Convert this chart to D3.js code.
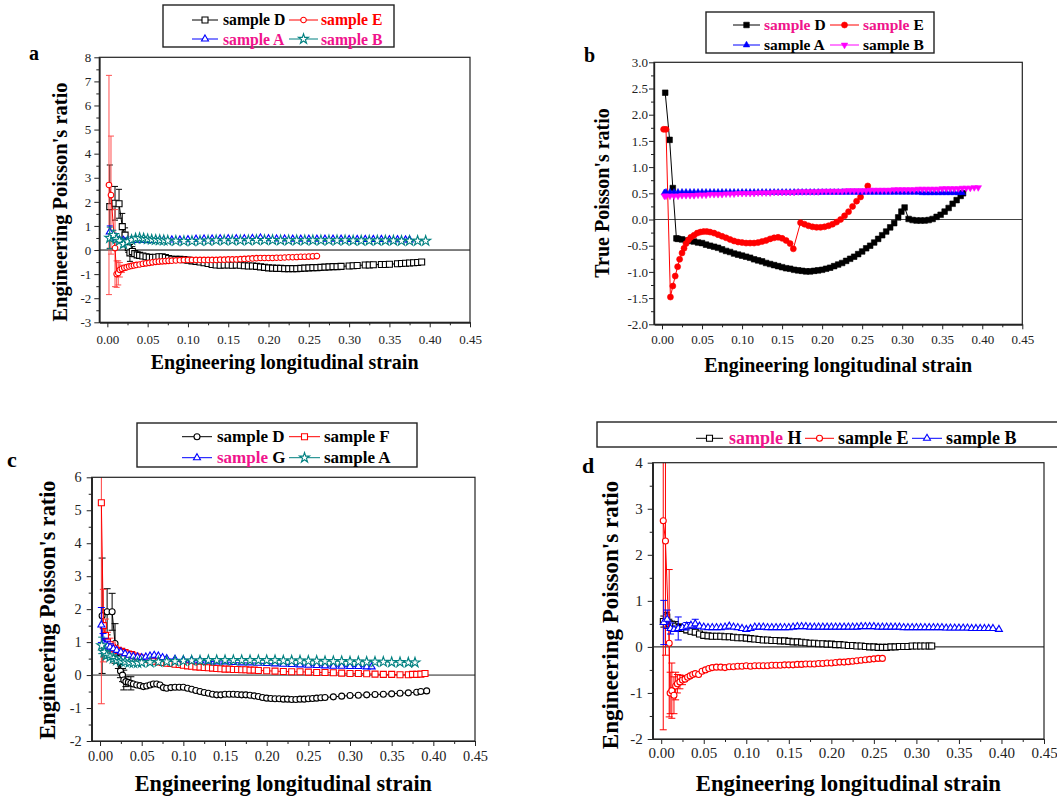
<!DOCTYPE html>
<html><head><meta charset="utf-8">
<script src="https://cdn.jsdelivr.net/npm/d3@7"></script>
<style>body{margin:0;background:#fff} svg{display:block} text{font-family:"Liberation Serif","Times New Roman",serif}</style>
</head><body><svg id="chart" width="1057" height="799"></svg>
<script>
// ---------- tick labels ----------
const xTicks = [0,0.05,0.1,0.15,0.2,0.25,0.3,0.35,0.4,0.45];
const aYTicks = [-3,-2,-1,0,1,2,3,4,5,6,7,8];
const bYTicks = [-2,-1.5,-1,-0.5,0,0.5,1,1.5,2,2.5,3];
const cYTicks = [-2,-1,0,1,2,3,4,5,6];
const dYTicks = [-2,-1,0,1,2,3,4];

// ---------- panel a : [strain, ratio, error] ----------
const aD = [[0.003,1.80,1.73],[0.0095,1.94,0.7],[0.0145,1.92,0.6],[0.0185,0.97,0.55],[0.022,0.62,0.3],[0.026,0.1,0.2],[0.028,-0.12,0.35],[0.031,-0.06,0.2],[0.034,-0.15,0.1],[0.037,-0.2],[0.04,-0.22],[0.044,-0.25],[0.048,-0.28],[0.052,-0.3],[0.056,-0.31],[0.06,-0.3],[0.064,-0.28],[0.068,-0.28],[0.072,-0.31],[0.076,-0.35],[0.08,-0.38],[0.085,-0.39],[0.09,-0.39],[0.095,-0.4],[0.1,-0.42],[0.105,-0.45],[0.11,-0.47],[0.115,-0.5],[0.12,-0.53],[0.125,-0.56],[0.13,-0.6],[0.135,-0.62],[0.14,-0.63],[0.145,-0.62],[0.15,-0.62],[0.155,-0.63],[0.16,-0.62],[0.165,-0.63],[0.17,-0.65],[0.175,-0.66],[0.18,-0.66],[0.185,-0.68],[0.19,-0.7],[0.195,-0.72],[0.2,-0.74],[0.205,-0.75],[0.21,-0.76],[0.215,-0.76],[0.22,-0.77],[0.225,-0.77],[0.23,-0.77],[0.235,-0.77],[0.24,-0.76],[0.245,-0.75],[0.25,-0.74],[0.255,-0.73],[0.26,-0.73],[0.265,-0.72],[0.27,-0.71],[0.275,-0.7],[0.28,-0.69],[0.285,-0.69],[0.29,-0.68],[0.3,-0.66],[0.305,-0.65],[0.31,-0.64],[0.32,-0.62],[0.325,-0.62],[0.33,-0.61],[0.34,-0.6],[0.345,-0.6],[0.35,-0.59],[0.36,-0.57],[0.365,-0.56],[0.37,-0.55],[0.375,-0.54],[0.38,-0.53],[0.385,-0.52],[0.39,-0.5]];
const aE = [[0.002,2.7,4.55],[0.0045,2.28,2.45],[0.0095,0.08,1.6],[0.0115,-1.0,0.55],[0.0135,-0.95,0.5],[0.0155,-0.82,0.3],[0.018,-0.78,0.15],[0.021,-0.74,0.1],[0.024,-0.71],[0.027,-0.68],[0.03,-0.66],[0.033,-0.64],[0.036,-0.62],[0.04,-0.6],[0.044,-0.57],[0.048,-0.55],[0.052,-0.53],[0.056,-0.51],[0.06,-0.49],[0.064,-0.48],[0.068,-0.47],[0.072,-0.46],[0.076,-0.45],[0.08,-0.44],[0.085,-0.43],[0.09,-0.42],[0.095,-0.41],[0.1,-0.41],[0.105,-0.41],[0.11,-0.41],[0.115,-0.41],[0.12,-0.41],[0.125,-0.41],[0.13,-0.41],[0.135,-0.41],[0.14,-0.4],[0.145,-0.4],[0.15,-0.39],[0.155,-0.39],[0.16,-0.39],[0.165,-0.38],[0.17,-0.37],[0.175,-0.36],[0.18,-0.35],[0.185,-0.34],[0.19,-0.33],[0.195,-0.33],[0.2,-0.33],[0.205,-0.33],[0.21,-0.32],[0.215,-0.32],[0.22,-0.31],[0.225,-0.3],[0.23,-0.3],[0.235,-0.29],[0.24,-0.28],[0.245,-0.28],[0.25,-0.27],[0.255,-0.26],[0.26,-0.25]];
const aA = [[0.003,0.75,0.25],[0.0075,0.55,0.15],[0.011,0.48,0.08],[0.015,0.42],[0.02,0.4],[0.025,0.4],[0.03,0.4],[0.035,0.4],[0.04,0.41],[0.045,0.4],[0.05,0.4],[0.055,0.4],[0.06,0.4],[0.065,0.41],[0.07,0.41],[0.08,0.42],[0.09,0.42],[0.1,0.43],[0.11,0.45],[0.12,0.46],[0.13,0.46],[0.14,0.47],[0.15,0.47],[0.16,0.47],[0.17,0.47],[0.18,0.48],[0.19,0.5],[0.2,0.47],[0.21,0.46],[0.22,0.46],[0.23,0.45],[0.24,0.45],[0.25,0.45],[0.26,0.45],[0.27,0.45],[0.28,0.45],[0.29,0.45],[0.3,0.44],[0.31,0.44],[0.32,0.44],[0.33,0.44],[0.34,0.44],[0.35,0.43],[0.36,0.43],[0.37,0.42],[0.375,0.42]];
const aB = [[0.003,0.5,0.45],[0.0075,0.62,0.2],[0.011,0.45,0.1],[0.015,0.38,0.1],[0.02,0.25,0.12],[0.025,0.35],[0.03,0.42],[0.035,0.48],[0.04,0.5],[0.045,0.48],[0.05,0.45],[0.055,0.43],[0.06,0.42],[0.065,0.41],[0.07,0.4],[0.075,0.39],[0.085,0.38],[0.095,0.37],[0.105,0.37],[0.115,0.38],[0.125,0.39],[0.135,0.4],[0.145,0.4],[0.155,0.4],[0.165,0.4],[0.175,0.4],[0.185,0.41],[0.195,0.41],[0.205,0.41],[0.215,0.4],[0.225,0.4],[0.235,0.4],[0.245,0.4],[0.255,0.4],[0.265,0.4],[0.275,0.4],[0.285,0.4],[0.295,0.4],[0.305,0.39],[0.315,0.39],[0.325,0.39],[0.335,0.39],[0.345,0.39],[0.355,0.39],[0.365,0.38],[0.375,0.38],[0.385,0.38],[0.395,0.38]];

// ---------- panel b : [strain, true ratio] ----------
const bD = [[0.004,2.42],[0.0095,1.52],[0.0135,0.6],[0.018,-0.36],[0.02,-0.37],[0.025,-0.38],[0.03,-0.4],[0.035,-0.41],[0.04,-0.42],[0.045,-0.44],[0.05,-0.45],[0.055,-0.48],[0.06,-0.5],[0.065,-0.52],[0.07,-0.54],[0.075,-0.57],[0.08,-0.6],[0.085,-0.62],[0.09,-0.65],[0.095,-0.67],[0.1,-0.69],[0.105,-0.71],[0.11,-0.73],[0.115,-0.76],[0.12,-0.78],[0.125,-0.8],[0.13,-0.83],[0.135,-0.85],[0.14,-0.87],[0.145,-0.89],[0.15,-0.91],[0.155,-0.93],[0.16,-0.94],[0.165,-0.96],[0.17,-0.97],[0.175,-0.98],[0.18,-0.99],[0.185,-0.99],[0.19,-0.98],[0.195,-0.97],[0.2,-0.96],[0.205,-0.94],[0.21,-0.92],[0.215,-0.89],[0.22,-0.86],[0.225,-0.83],[0.23,-0.79],[0.235,-0.75],[0.24,-0.71],[0.245,-0.66],[0.25,-0.61],[0.255,-0.55],[0.26,-0.5],[0.265,-0.44],[0.27,-0.37],[0.275,-0.3],[0.28,-0.23],[0.285,-0.15],[0.29,-0.07],[0.295,0.04],[0.299,0.15],[0.303,0.23],[0.308,0.01],[0.313,-0.01],[0.318,-0.02],[0.323,-0.02],[0.328,-0.02],[0.333,-0.01],[0.338,0.01],[0.343,0.05],[0.348,0.09],[0.353,0.15],[0.358,0.22],[0.363,0.3],[0.368,0.37],[0.373,0.45],[0.376,0.5]];
const bE = [[0.002,1.72],[0.005,1.72],[0.0105,-1.48],[0.0135,-1.27],[0.0165,-1.08],[0.0195,-0.9],[0.022,-0.76],[0.025,-0.64],[0.0275,-0.55],[0.03,-0.46],[0.033,-0.39],[0.036,-0.34],[0.04,-0.3],[0.044,-0.26],[0.048,-0.24],[0.052,-0.23],[0.056,-0.23],[0.06,-0.24],[0.065,-0.26],[0.07,-0.29],[0.075,-0.32],[0.08,-0.35],[0.085,-0.38],[0.09,-0.41],[0.095,-0.43],[0.1,-0.44],[0.105,-0.45],[0.11,-0.45],[0.115,-0.45],[0.12,-0.44],[0.125,-0.42],[0.13,-0.4],[0.135,-0.37],[0.14,-0.35],[0.145,-0.34],[0.15,-0.36],[0.155,-0.4],[0.16,-0.46],[0.164,-0.56],[0.173,-0.06],[0.178,-0.09],[0.183,-0.12],[0.188,-0.14],[0.193,-0.15],[0.198,-0.15],[0.203,-0.14],[0.208,-0.12],[0.213,-0.09],[0.218,-0.05],[0.223,0.0],[0.228,0.07],[0.233,0.15],[0.238,0.25],[0.243,0.35],[0.248,0.43],[0.257,0.64]];
const bA = [[0.003,0.51],[0.005,0.52],[0.01,0.52],[0.015,0.52],[0.02,0.52],[0.025,0.52],[0.03,0.52],[0.035,0.52],[0.04,0.52],[0.045,0.52],[0.05,0.52],[0.055,0.52],[0.06,0.52],[0.065,0.52],[0.07,0.52],[0.075,0.52],[0.08,0.52],[0.085,0.52],[0.09,0.52],[0.095,0.52],[0.1,0.52],[0.105,0.52],[0.11,0.52],[0.115,0.52],[0.12,0.52],[0.125,0.52],[0.13,0.52],[0.135,0.52],[0.14,0.52],[0.145,0.52],[0.15,0.52],[0.155,0.52],[0.16,0.52],[0.165,0.52],[0.17,0.52],[0.175,0.52],[0.18,0.52],[0.185,0.52],[0.19,0.52],[0.195,0.52],[0.2,0.52],[0.205,0.52],[0.21,0.52],[0.215,0.52],[0.22,0.52],[0.225,0.52],[0.23,0.52],[0.235,0.52],[0.24,0.52],[0.245,0.52],[0.25,0.52],[0.255,0.52],[0.26,0.52],[0.265,0.52],[0.27,0.52],[0.275,0.52],[0.28,0.52],[0.285,0.52],[0.29,0.52],[0.295,0.52],[0.3,0.52],[0.305,0.52],[0.31,0.52],[0.315,0.52],[0.32,0.52],[0.325,0.51],[0.33,0.51],[0.335,0.51],[0.34,0.51],[0.345,0.51],[0.35,0.51],[0.355,0.51],[0.36,0.51],[0.365,0.51],[0.37,0.51],[0.375,0.51]];
const bB = [[0.003,0.45],[0.005,0.45],[0.01,0.45],[0.015,0.45],[0.02,0.45],[0.025,0.46],[0.03,0.46],[0.035,0.46],[0.04,0.46],[0.045,0.47],[0.05,0.47],[0.055,0.47],[0.06,0.48],[0.065,0.48],[0.07,0.48],[0.075,0.48],[0.08,0.49],[0.085,0.49],[0.09,0.49],[0.095,0.5],[0.1,0.5],[0.105,0.5],[0.11,0.5],[0.115,0.5],[0.12,0.51],[0.125,0.51],[0.13,0.51],[0.135,0.51],[0.14,0.52],[0.145,0.52],[0.15,0.52],[0.155,0.52],[0.16,0.52],[0.165,0.52],[0.17,0.53],[0.175,0.53],[0.18,0.53],[0.185,0.53],[0.19,0.53],[0.195,0.53],[0.2,0.54],[0.205,0.54],[0.21,0.54],[0.215,0.54],[0.22,0.54],[0.225,0.54],[0.23,0.55],[0.235,0.55],[0.24,0.55],[0.245,0.55],[0.25,0.55],[0.255,0.55],[0.26,0.56],[0.265,0.56],[0.27,0.56],[0.275,0.56],[0.28,0.56],[0.285,0.56],[0.29,0.57],[0.295,0.57],[0.3,0.57],[0.305,0.57],[0.31,0.57],[0.315,0.57],[0.32,0.58],[0.325,0.58],[0.33,0.58],[0.335,0.58],[0.34,0.58],[0.345,0.58],[0.35,0.59],[0.355,0.59],[0.36,0.59],[0.365,0.59],[0.37,0.59],[0.375,0.6],[0.38,0.6],[0.385,0.6],[0.39,0.61],[0.395,0.61]];

// ---------- panel c ----------
const cD = [[0.0025,1.8,1.75],[0.0085,1.92,0.7],[0.0145,1.92,0.56],[0.018,0.96,0.6],[0.022,0.5,0.3],[0.0245,0.12,0.2],[0.027,0.0,0.2],[0.0285,-0.15,0.3],[0.031,-0.2,0.15],[0.034,-0.22],[0.037,-0.25,0.2],[0.04,-0.27],[0.044,-0.3],[0.048,-0.32],[0.052,-0.35],[0.056,-0.33],[0.06,-0.3],[0.064,-0.27],[0.068,-0.27],[0.072,-0.3],[0.076,-0.38],[0.08,-0.4],[0.085,-0.38],[0.09,-0.37],[0.095,-0.37],[0.1,-0.37],[0.105,-0.4],[0.11,-0.43],[0.115,-0.47],[0.12,-0.5],[0.125,-0.53],[0.13,-0.55],[0.135,-0.58],[0.14,-0.6],[0.145,-0.6],[0.15,-0.58],[0.155,-0.58],[0.16,-0.58],[0.165,-0.59],[0.17,-0.6],[0.175,-0.6],[0.18,-0.61],[0.185,-0.63],[0.19,-0.65],[0.195,-0.68],[0.2,-0.7],[0.205,-0.71],[0.21,-0.72],[0.215,-0.72],[0.22,-0.73],[0.225,-0.73],[0.23,-0.74],[0.235,-0.74],[0.24,-0.73],[0.245,-0.73],[0.25,-0.72],[0.255,-0.71],[0.26,-0.7],[0.265,-0.69],[0.27,-0.68],[0.28,-0.66],[0.29,-0.64],[0.3,-0.62],[0.31,-0.61],[0.32,-0.6],[0.33,-0.59],[0.34,-0.58],[0.35,-0.57],[0.36,-0.55],[0.37,-0.54],[0.38,-0.52],[0.385,-0.5],[0.392,-0.48]];
const cF = [[0.0016,5.23,6.1],[0.004,1.5,1.1],[0.0065,1.2,0.5],[0.009,1.0,0.3],[0.012,0.92,0.2],[0.015,0.85,0.15],[0.018,0.8,0.1],[0.022,0.75],[0.026,0.72],[0.03,0.68],[0.034,0.64],[0.038,0.62],[0.042,0.58],[0.046,0.55],[0.05,0.52],[0.055,0.48],[0.06,0.45],[0.065,0.42],[0.07,0.4],[0.075,0.38],[0.08,0.36],[0.085,0.35],[0.09,0.33],[0.095,0.32],[0.1,0.3],[0.105,0.28],[0.11,0.27],[0.115,0.25],[0.12,0.24],[0.125,0.23],[0.13,0.22],[0.135,0.21],[0.14,0.2],[0.145,0.19],[0.15,0.18],[0.155,0.18],[0.16,0.17],[0.165,0.17],[0.17,0.16],[0.175,0.16],[0.18,0.15],[0.185,0.15],[0.19,0.14],[0.2,0.13],[0.21,0.12],[0.22,0.11],[0.23,0.1],[0.24,0.1],[0.25,0.09],[0.26,0.08],[0.27,0.08],[0.28,0.07],[0.29,0.06],[0.3,0.05],[0.31,0.05],[0.32,0.04],[0.33,0.03],[0.34,0.02],[0.35,0.02],[0.36,0.01],[0.37,0.01],[0.375,0.02],[0.38,0.02],[0.385,0.03],[0.39,0.05]];
const cG = [[0.0016,1.52,0.53],[0.0036,0.96,0.3],[0.006,0.92,0.2],[0.009,0.88,0.15],[0.012,0.85,0.1],[0.016,0.8],[0.02,0.75],[0.025,0.7],[0.03,0.65],[0.035,0.6],[0.04,0.57],[0.045,0.55],[0.05,0.53],[0.055,0.55],[0.06,0.58],[0.065,0.6],[0.07,0.58],[0.075,0.53],[0.08,0.5],[0.09,0.48],[0.1,0.46],[0.11,0.45],[0.12,0.44],[0.13,0.42],[0.14,0.4],[0.15,0.4],[0.16,0.38],[0.17,0.37],[0.18,0.37],[0.19,0.36],[0.2,0.35],[0.21,0.34],[0.22,0.33],[0.23,0.32],[0.24,0.31],[0.25,0.3],[0.26,0.29],[0.27,0.28],[0.28,0.27],[0.29,0.27],[0.3,0.26],[0.31,0.26],[0.32,0.25],[0.326,0.25]];
const cA = [[0.002,0.9,0.25],[0.005,0.7,0.15],[0.008,0.6,0.1],[0.012,0.55],[0.016,0.5],[0.02,0.45],[0.025,0.42],[0.03,0.4],[0.035,0.38],[0.04,0.37],[0.045,0.37],[0.05,0.38],[0.06,0.39],[0.07,0.4],[0.08,0.41],[0.09,0.42],[0.1,0.43],[0.11,0.44],[0.12,0.44],[0.13,0.45],[0.14,0.45],[0.15,0.45],[0.16,0.45],[0.17,0.45],[0.18,0.45],[0.19,0.45],[0.2,0.45],[0.21,0.45],[0.22,0.44],[0.23,0.44],[0.24,0.44],[0.25,0.43],[0.26,0.43],[0.27,0.42],[0.28,0.42],[0.29,0.42],[0.3,0.41],[0.31,0.41],[0.32,0.4],[0.33,0.4],[0.34,0.4],[0.35,0.39],[0.36,0.39],[0.37,0.38],[0.378,0.38]];

// ---------- panel d ----------
const dH = [[0.0025,0.55,0.12],[0.0065,0.65,0.1],[0.0095,0.5,0.1],[0.013,0.48,0.08],[0.017,0.45,0.1],[0.021,0.42,0.08],[0.025,0.4,0.06],[0.03,0.37,0.06],[0.035,0.34,0.06],[0.04,0.32,0.05],[0.045,0.28,0.05],[0.05,0.25,0.05],[0.055,0.24,0.05],[0.06,0.23,0.05],[0.065,0.23,0.05],[0.07,0.23,0.05],[0.075,0.22,0.05],[0.08,0.22,0.05],[0.085,0.21,0.05],[0.09,0.2,0.05],[0.095,0.2,0.05],[0.1,0.19,0.05],[0.105,0.18,0.05],[0.11,0.17,0.05],[0.115,0.16,0.05],[0.12,0.15,0.05],[0.125,0.15,0.05],[0.13,0.14,0.05],[0.135,0.14,0.05],[0.14,0.13,0.04],[0.145,0.13,0.04],[0.15,0.12,0.04],[0.155,0.11,0.04],[0.16,0.11,0.04],[0.165,0.1,0.04],[0.17,0.09,0.04],[0.175,0.08,0.04],[0.18,0.08,0.04],[0.185,0.07,0.04],[0.19,0.07,0.04],[0.195,0.06,0.04],[0.2,0.06,0.04],[0.205,0.05,0.04],[0.21,0.05,0.04],[0.215,0.04,0.04],[0.22,0.03,0.04],[0.225,0.03,0.04],[0.23,0.02,0.04],[0.235,0.02,0.04],[0.24,0.01,0.03],[0.245,0.0,0.03],[0.25,0.0,0.03],[0.255,-0.01],[0.26,-0.01],[0.265,-0.01],[0.27,0.0],[0.275,0.0],[0.28,0.01],[0.285,0.01],[0.29,0.01],[0.295,0.02],[0.3,0.02],[0.305,0.02],[0.31,0.02],[0.315,0.02],[0.318,0.02]];
const dE = [[0.0024,2.74,4.54],[0.005,2.3,2.48],[0.0094,0.08,1.6],[0.0105,-1.0,0.45],[0.0125,-0.95,0.6],[0.015,-1.05,0.4],[0.017,-0.85,0.3],[0.019,-0.8,0.2],[0.022,-0.76,0.15],[0.025,-0.72,0.1],[0.028,-0.7],[0.031,-0.66],[0.034,-0.63],[0.037,-0.6],[0.04,-0.58],[0.044,-0.6],[0.048,-0.53],[0.052,-0.5],[0.056,-0.47],[0.06,-0.45],[0.065,-0.44],[0.07,-0.44],[0.075,-0.45],[0.08,-0.43],[0.085,-0.43],[0.09,-0.42],[0.095,-0.42],[0.1,-0.41],[0.105,-0.42],[0.11,-0.41],[0.115,-0.41],[0.12,-0.41],[0.125,-0.41],[0.13,-0.4],[0.135,-0.4],[0.14,-0.4],[0.145,-0.39],[0.15,-0.39],[0.155,-0.39],[0.16,-0.38],[0.165,-0.38],[0.17,-0.37],[0.175,-0.37],[0.18,-0.37],[0.185,-0.36],[0.19,-0.36],[0.195,-0.35],[0.2,-0.35],[0.205,-0.34],[0.21,-0.33],[0.215,-0.33],[0.22,-0.32],[0.225,-0.31],[0.23,-0.3],[0.235,-0.29],[0.24,-0.28],[0.245,-0.27],[0.25,-0.26],[0.255,-0.25],[0.26,-0.25]];
const dB = [[0.003,0.53,0.48],[0.007,0.6,0.2],[0.011,0.4,0.12],[0.015,0.38],[0.02,0.4,0.25],[0.025,0.42],[0.03,0.45,0.08],[0.035,0.47],[0.04,0.5,0.1],[0.045,0.45],[0.05,0.43],[0.055,0.42],[0.06,0.42],[0.065,0.42],[0.07,0.42],[0.075,0.43],[0.08,0.45],[0.085,0.43],[0.09,0.42],[0.095,0.4],[0.1,0.38],[0.105,0.4],[0.11,0.43],[0.115,0.43],[0.12,0.43],[0.125,0.42],[0.13,0.42],[0.135,0.42],[0.14,0.42],[0.145,0.42],[0.15,0.42],[0.155,0.43],[0.16,0.44],[0.165,0.44],[0.17,0.44],[0.175,0.43],[0.18,0.43],[0.185,0.43],[0.19,0.43],[0.195,0.43],[0.2,0.43],[0.205,0.43],[0.21,0.43],[0.215,0.43],[0.22,0.43],[0.225,0.43],[0.23,0.43],[0.235,0.44],[0.24,0.44],[0.245,0.44],[0.25,0.44],[0.255,0.43],[0.26,0.43],[0.265,0.43],[0.27,0.43],[0.275,0.43],[0.28,0.43],[0.285,0.42],[0.29,0.42],[0.295,0.42],[0.3,0.42],[0.305,0.42],[0.31,0.42],[0.315,0.42],[0.32,0.42],[0.325,0.42],[0.33,0.42],[0.335,0.41],[0.34,0.41],[0.345,0.41],[0.35,0.41],[0.355,0.41],[0.36,0.41],[0.365,0.4],[0.37,0.4],[0.375,0.4],[0.38,0.4],[0.385,0.4],[0.39,0.4],[0.397,0.38]];

// ---------- styling ----------
const C = {black:'#000000', red:'#ff0000', blue:'#0000ff', teal:'#008080', magenta:'#ff00ff', pink:'#f0148c'};
const XT = 'Engineering longitudinal strain';
const YE = "Engineering Poisson's ratio";
const YT = "True Poisson's ratio";

const panels = [
 {label:'a', lab:[29,60,20], plot:{l:99.3,r:470,t:57.3,b:322.3}, yDom:[-3,8], yTicks:aYTicks, yMinor:0.5, yFmt:'d',
  tickFs:13, xPad:7.5, yPad:3, xTitleFs:20, xTitleY:369, yTitle:YE, yTitleX:67, yTitleY:202, yTitleFs:20.5, zero:'#000',
  series:[
   {data:aD, color:C.black, sym:'square', size:6, cap:6},
   {data:aE, color:C.red, sym:'circle', size:5.6, cap:6, errColor:'#ff5050'},
   {data:aA, color:C.blue, sym:'triangle', size:7, cap:6},
   {data:aB, color:C.teal, sym:'star', size:7.5, cap:6}],
  legend:{box:[163,5,394,47], fs:15.7, items:[
   {s:0,x1:192,x2:218,tx:223,ty:25,sy:20,parts:[['sample D',C.black]]},
   {s:1,x1:289,x2:318,tx:321,ty:25,sy:20,parts:[['sample E',C.red]]},
   {s:2,x1:192,x2:218,tx:223,ty:44.5,sy:39,parts:[['sample A',C.pink]]},
   {s:3,x1:289,x2:318,tx:321,ty:44.5,sy:39,parts:[['sample B',C.pink]]}]}},
 {label:'b', lab:[584,62,20], plot:{l:654,r:1022.3,t:62.3,b:324.3}, yDom:[-2,3], yTicks:bYTicks, yMinor:0.25, yFmt:'.1f',
  tickFs:13, xPad:5, yPad:1, xTitleFs:20, xTitleY:372, yTitle:YT, yTitleX:609, yTitleY:193, yTitleFs:20, zero:'#444',
  series:[
   {data:bD, color:C.black, sym:'square', size:5.6, filled:true},
   {data:bE, color:C.red, sym:'circle', size:6, filled:true},
   {data:bA, color:C.blue, sym:'triangle', size:6.5, filled:true},
   {data:bB, color:C.magenta, sym:'triangleDown', size:6.5, filled:true}],
  legend:{box:[706,12,934,53], fs:15.5, items:[
   {s:0,x1:733,x2:760,tx:764,ty:30,sy:25,parts:[['sample ',C.pink],['D',C.black]]},
   {s:1,x1:830,x2:859,tx:863,ty:30,sy:25,parts:[['sample ',C.pink],['E',C.black]]},
   {s:2,x1:733,x2:760,tx:764,ty:50,sy:45,parts:[['sample A',C.black]]},
   {s:3,x1:830,x2:859,tx:863,ty:50,sy:45,parts:[['sample B',C.black]]}]}},
 {label:'c', lab:[7,467,22], plot:{l:91.7,r:475,t:477.3,b:741}, yDom:[-2,6], yTicks:cYTicks, yMinor:0.5, yFmt:'d',
  tickFs:14.3, xPad:4.8, yPad:5, xTitleFs:22.2, xTitleY:791, yTitle:YE, yTitleX:55, yTitleY:610, yTitleFs:22.2, zero:'#222',
  series:[
   {data:cD, color:C.black, sym:'circle', size:6, cap:7},
   {data:cF, color:C.red, sym:'square', size:6, cap:7, errColor:'#ff4040'},
   {data:cG, color:C.blue, sym:'triangle', size:7, cap:7},
   {data:cA, color:C.teal, sym:'star', size:7.5, cap:7}],
  legend:{box:[137,423,417,467], fs:17, items:[
   {s:0,x1:182,x2:212,tx:217,ty:441.5,sy:436.7,parts:[['sample D',C.black]]},
   {s:1,x1:289,x2:320,tx:324,ty:441.5,sy:436.7,parts:[['sample F',C.black]]},
   {s:2,x1:182,x2:212,tx:217,ty:462.5,sy:457.7,parts:[['sample ',C.pink],['G',C.black]]},
   {s:3,x1:289,x2:320,tx:324,ty:462.5,sy:457.7,parts:[['sample A',C.black]]}]}},
 {label:'d', lab:[582,473,22], plot:{l:652.7,r:1044,t:462.7,b:739}, yDom:[-2,4], yTicks:dYTicks, yMinor:0.5, yFmt:'d',
  tickFs:15, xPad:3.4, yPad:5, xTitleFs:22.8, xTitleY:791, yTitle:YE, yTitleX:618, yTitleY:615, yTitleFs:23, zero:'#000',
  series:[
   {data:dH, color:C.black, sym:'square', size:6, cap:6},
   {data:dE, color:C.red, sym:'circle', size:6, cap:7},
   {data:dB, color:C.blue, sym:'triangle', size:7, cap:7}],
  legend:{box:[597,422,1062,447], fs:18, items:[
   {s:0,x1:696,x2:723,tx:729,ty:443.5,sy:438.3,parts:[['sample ',C.pink],['H',C.black]]},
   {s:1,x1:805,x2:834,tx:838,ty:443.5,sy:438.3,parts:[['sample E',C.black]]},
   {s:2,x1:912,x2:942,tx:946,ty:443.5,sy:438.3,parts:[['sample B',C.black]]}]}}
];

const svg = d3.select('#chart');
const defs = svg.append('defs');
const hy = s => s.replace(/\u2212/g,'-');

function symbolPath(s){
  const t = s.sym, sz = s.size;
  if (t==='square') return d3.symbol(d3.symbolSquare, sz*sz)();
  if (t==='circle') return d3.symbol(d3.symbolCircle, Math.PI*sz*sz/4)();
  if (t==='triangle' || t==='triangleDown') return d3.symbol(d3.symbolTriangle, 0.433*sz*sz)();
  if (t==='star') return d3.symbol(d3.symbolStar, 0.55*sz*sz)();
}
function drawMarkers(g, s, pts){
  const p = symbolPath(s);
  g.selectAll(null).data(pts).join('path')
    .attr('d', p)
    .attr('transform', d => `translate(${d[0]},${d[1]})` + (s.sym==='triangleDown' ? ' rotate(180)' : ''))
    .attr('fill', s.filled ? s.color : '#fff')
    .attr('stroke', s.color)
    .attr('stroke-width', s.filled ? 0.6 : 1.1);
}

panels.forEach(cfg => {
  const {l,r,t,b} = cfg.plot;
  const x = d3.scaleLinear().domain([-0.01,0.45]).range([l,r]);
  const y = d3.scaleLinear().domain(cfg.yDom).range([b,t]);
  const g = svg.append('g');
  const cid = 'clip-' + cfg.label;
  defs.append('clipPath').attr('id', cid).append('rect').attr('x', l).attr('y', t).attr('width', r-l).attr('height', b-t);
  const inner = g.append('g').attr('clip-path', `url(#${cid})`);
  inner.append('line').attr('x1', l).attr('x2', r).attr('y1', y(0)).attr('y2', y(0)).attr('stroke', cfg.zero).attr('stroke-width', 1);

  cfg.series.forEach(s => {
    const sg = inner.append('g');
    const ec = s.errColor || s.color;
    s.data.filter(d => d.length > 2).forEach(d => {
      const cx = x(d[0]), y1 = y(d[1]-d[2]), y2 = y(d[1]+d[2]), hw = (s.cap||6)/2;
      sg.append('line').attr('x1',cx).attr('x2',cx).attr('y1',y1).attr('y2',y2).attr('stroke',ec).attr('stroke-width',1);
      [y1,y2].forEach(yy => sg.append('line').attr('x1',cx-hw).attr('x2',cx+hw).attr('y1',yy).attr('y2',yy).attr('stroke',ec).attr('stroke-width',1));
    });
    sg.append('path').datum(s.data)
      .attr('d', d3.line().x(d => x(d[0])).y(d => y(d[1])))
      .attr('fill','none').attr('stroke', s.color).attr('stroke-width', 1);
    drawMarkers(sg, s, s.data.map(d => [x(d[0]), y(d[1])]));
  });

  g.append('rect').attr('x', l).attr('y', t).attr('width', r-l).attr('height', b-t)
    .attr('fill','none').attr('stroke','#222').attr('stroke-width',1.2);

  const fx = v => hy(d3.format('.2f')(v));
  const fy = v => hy(d3.format(cfg.yFmt)(v));
  const yMinor = d3.range(cfg.yDom[0], cfg.yDom[1] + 1e-9, cfg.yMinor).filter(v => !cfg.yTicks.some(tk => Math.abs(tk - v) < 1e-9));

  g.append('g').attr('transform', `translate(0,${b})`)
    .call(d3.axisBottom(x).tickValues(xTicks).tickFormat(fx).tickSize(5).tickSizeOuter(0).tickPadding(cfg.xPad));
  g.append('g').attr('transform', `translate(0,${b})`)
    .call(d3.axisBottom(x).tickValues(d3.range(0.025,0.45,0.05)).tickFormat('').tickSize(3).tickSizeOuter(0));
  g.append('g').attr('transform', `translate(${l},0)`)
    .call(d3.axisLeft(y).tickValues(cfg.yTicks).tickFormat(fy).tickSize(5).tickSizeOuter(0).tickPadding(cfg.yPad));
  g.append('g').attr('transform', `translate(${l},0)`)
    .call(d3.axisLeft(y).tickValues(yMinor).tickFormat('').tickSize(3).tickSizeOuter(0));
  g.selectAll('.domain').attr('stroke','#222').attr('stroke-width',1.2);
  g.selectAll('.tick line').attr('stroke','#222').attr('stroke-width',1);
  g.selectAll('.tick text').attr('font-family','"Liberation Serif","Times New Roman",serif')
    .attr('font-size', cfg.tickFs).attr('fill','#222');

  g.append('text').attr('x', (l+r)/2).attr('y', cfg.xTitleY).attr('text-anchor','middle')
    .attr('font-weight','bold').attr('font-size', cfg.xTitleFs).attr('fill','#000').text(XT);
  g.append('text').attr('transform', `translate(${cfg.yTitleX},${cfg.yTitleY}) rotate(-90)`).attr('text-anchor','middle')
    .attr('font-weight','bold').attr('font-size', cfg.yTitleFs).attr('fill','#000').text(cfg.yTitle);

  g.append('text').attr('x', cfg.lab[0]).attr('y', cfg.lab[1]).attr('font-weight','bold')
    .attr('font-size', cfg.lab[2]).attr('fill','#000').text(cfg.label);

  const L = cfg.legend;
  const lg = g.append('g');
  lg.append('rect').attr('x', L.box[0]).attr('y', L.box[1]).attr('width', L.box[2]-L.box[0]).attr('height', L.box[3]-L.box[1])
    .attr('fill','#fff').attr('stroke','#222').attr('stroke-width',1.4);
  L.items.forEach(it => {
    const s = cfg.series[it.s];
    lg.append('line').attr('x1', it.x1).attr('x2', it.x2).attr('y1', it.sy).attr('y2', it.sy).attr('stroke', s.color).attr('stroke-width',1);
    drawMarkers(lg, s, [[(it.x1+it.x2)/2, it.sy]]);
    const tx = lg.append('text').attr('x', it.tx).attr('y', it.ty).attr('font-weight','bold').attr('font-size', L.fs);
    it.parts.forEach(p => tx.append('tspan').attr('fill', p[1]).text(p[0]));
  });
});
</script>
</body></html>
